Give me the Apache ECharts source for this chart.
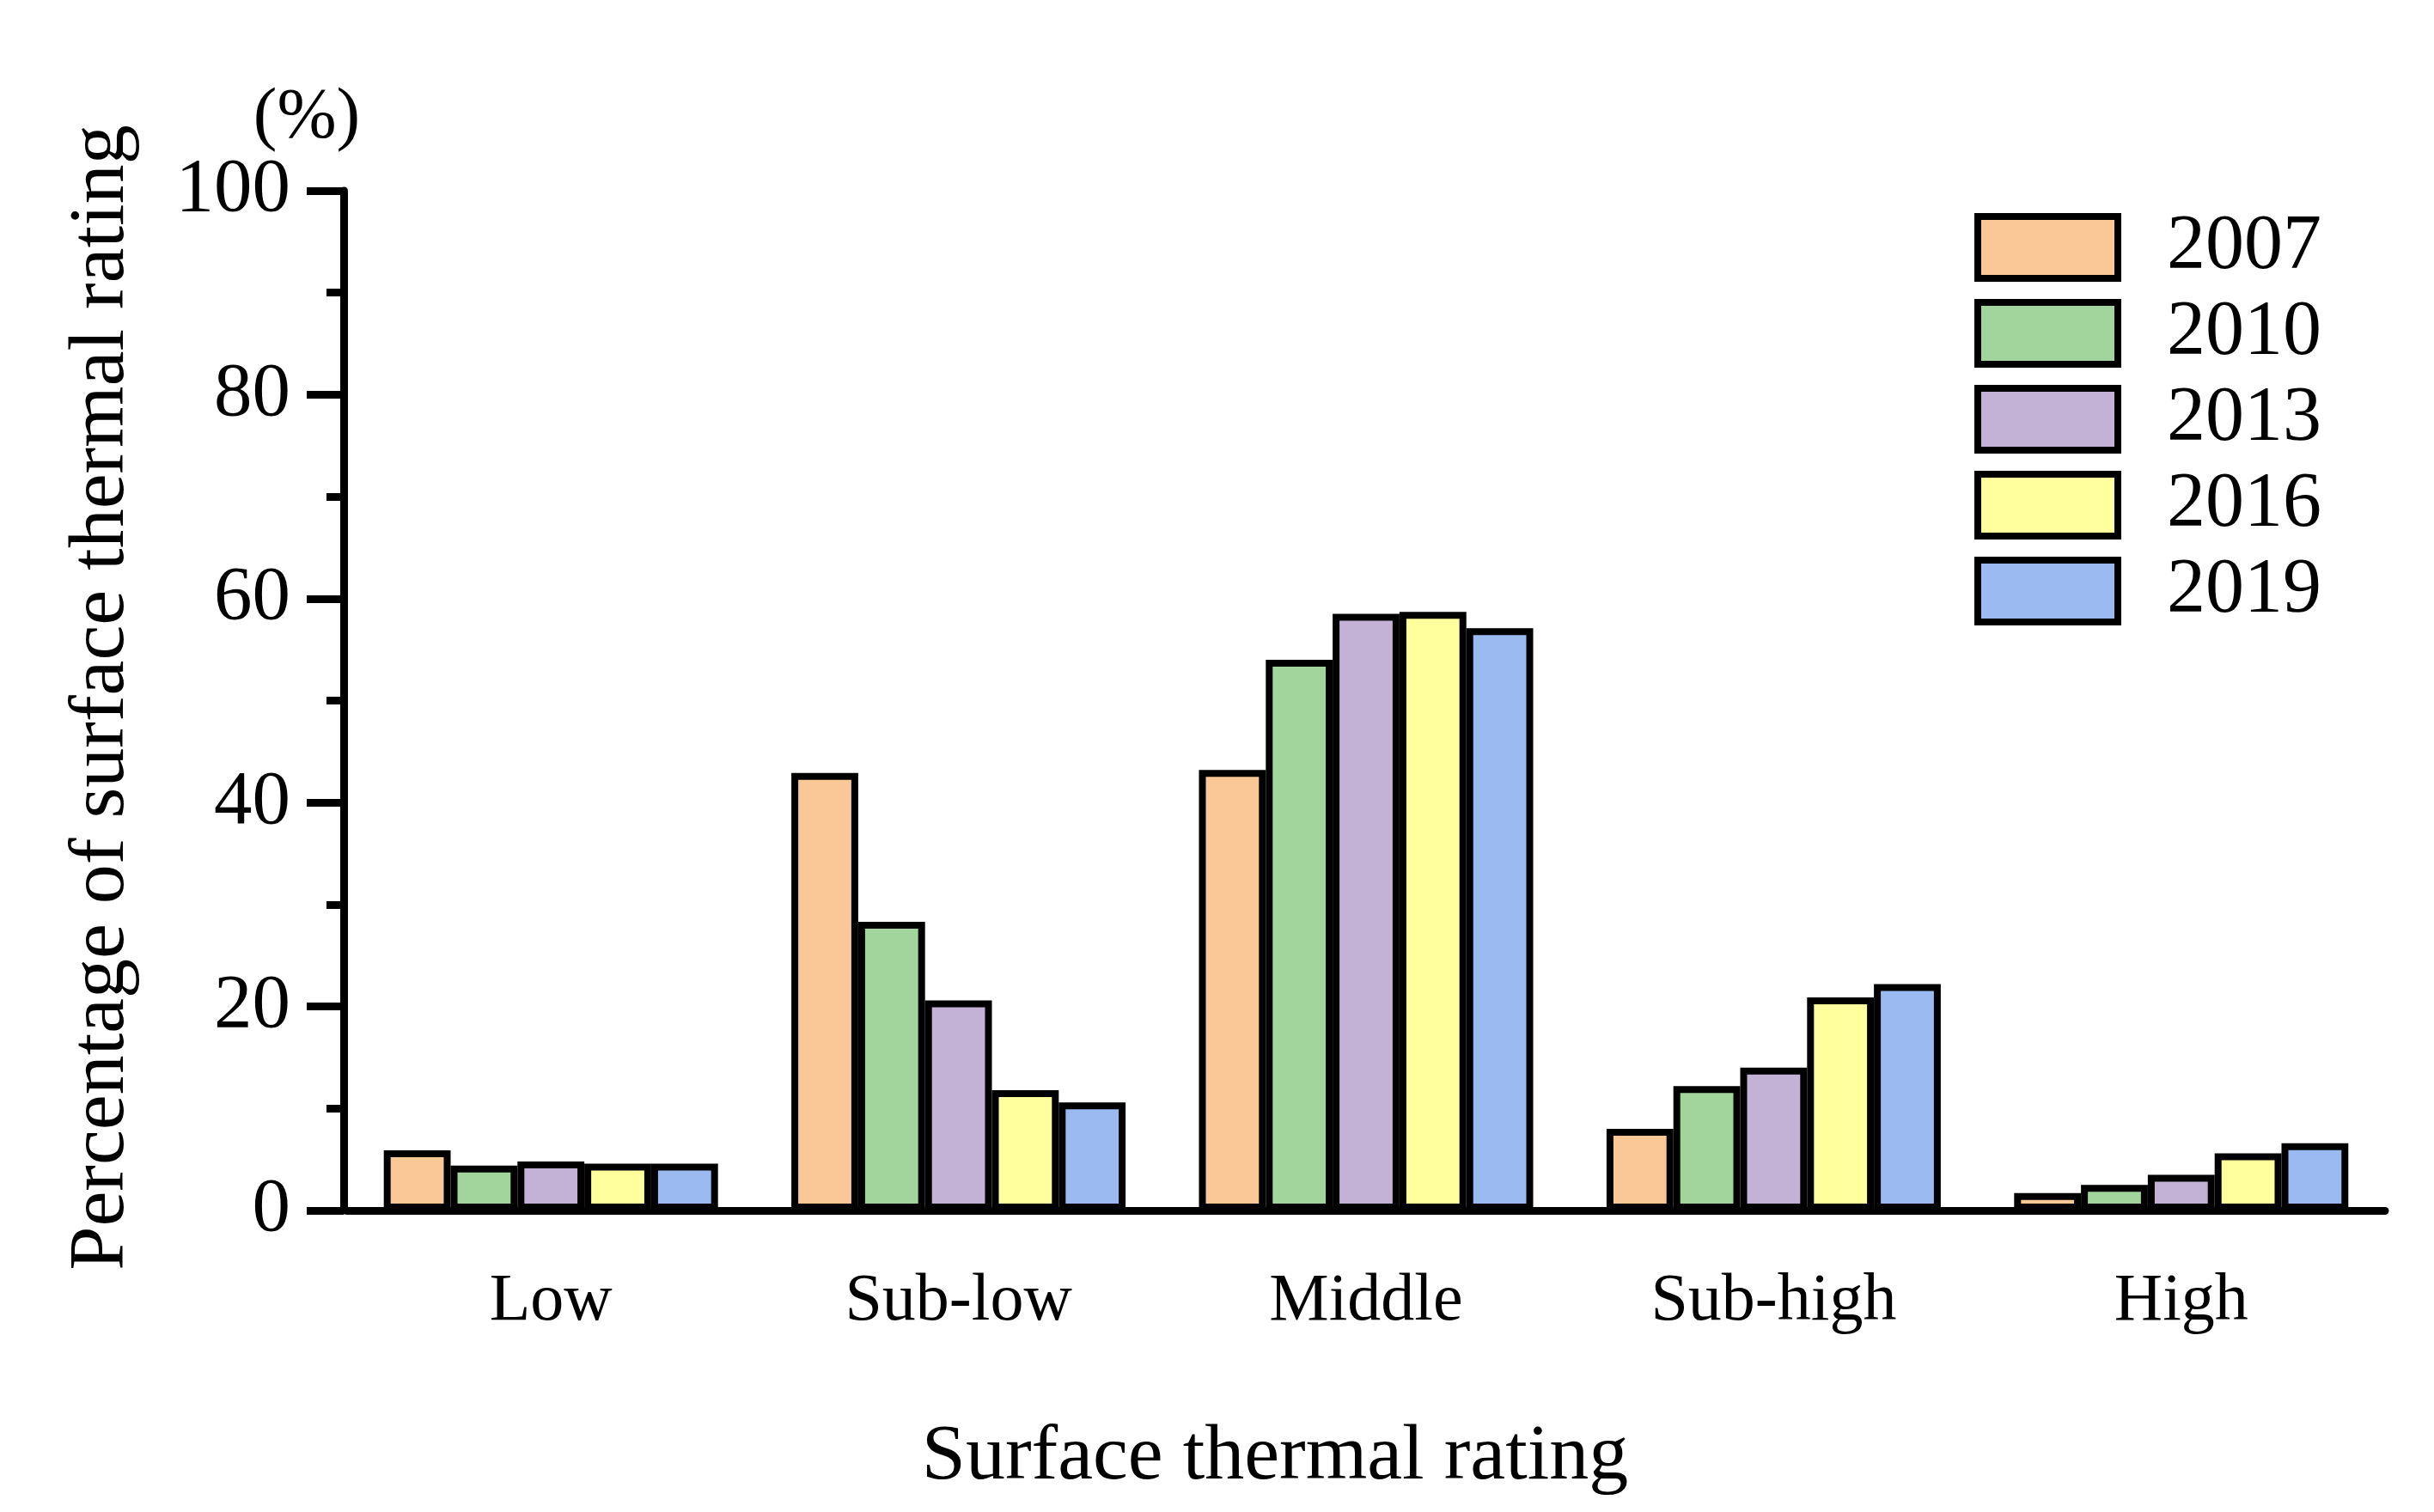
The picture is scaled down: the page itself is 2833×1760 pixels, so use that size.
<!DOCTYPE html>
<html>
<head>
<meta charset="utf-8">
<title>Surface thermal rating</title>
<script src="https://cdn.jsdelivr.net/npm/echarts@6/dist/echarts.min.js"></script>
<style>
  html, body { margin: 0; padding: 0; background: #fff; }
  #thermalChart { width: 2833px; height: 1760px; }
</style>
</head>
<body>
<div id="thermalChart"></div>
<script>
var categories = ['Low', 'Sub-low', 'Middle', 'Sub-high', 'High'];
var years = ['2007', '2010', '2013', '2016', '2019'];
var values2007 = [5.9, 42.9, 43.2, 8.0, 1.7];
var values2010 = [4.4, 28.3, 54.0, 12.2, 2.5];
var values2013 = [4.8, 20.6, 58.5, 14.0, 3.5];
var values2016 = [4.6, 11.8, 58.7, 20.9, 5.6];
var values2019 = [4.6, 10.6, 57.1, 22.2, 6.6];
var yTicks = [0, 20, 40, 60, 80, 100];

var colorList = ['#F9C896', '#A1D59C', '#C3B2D6', '#FFFF9E', '#9BBAF1'];
var serif = 'Liberation Serif';
var thermalOption;

function init(){
    thermalChart();
    setThermalChart();
}

function thermalChart(){
    var seriesValues = [values2007, values2010, values2013, values2016, values2019];
    var series = [];
    for (var i = 0; i < years.length; i++) {
        series.push({
            name: years[i],
            type: 'bar',
            data: seriesValues[i],
            barGap: '0%',
            barCategoryGap: '18%',
            itemStyle: {
                color: colorList[i],
                borderColor: '#000',
                borderWidth: 8
            }
        });
    }

    thermalOption = {
        animation: false,
        backgroundColor: '#fff',
        grid: {
            left: 404,
            right: 57,
            top: 222,
            bottom: 351,
            containLabel: false
        },
        legend: {
            left: 2293,
            top: 238,
            orient: 'vertical',
            icon: 'rect',
            itemWidth: 163,
            itemHeight: 72,
            itemGap: 10,
            selectedMode: false,
            data: years,
            itemStyle: {
                borderColor: '#000',
                borderWidth: 8
            },
            textStyle: {
                fontFamily: serif,
                fontSize: 90,
                color: '#000',
                lineHeight: 72,
                padding: [0, 0, 0, 52]
            }
        },
        xAxis: [
            {
                type: 'category',
                data: categories,
                axisLine: { lineStyle: { color: '#000', width: 9 } },
                axisTick: {
                    alignWithLabel: true,
                    length: 40,
                    lineStyle: { color: '#000', width: 7 }
                },
                axisLabel: {
                    fontFamily: serif,
                    fontSize: 78,
                    color: '#000',
                    margin: 68
                }
            }
        ],
        yAxis: [
            {
                type: 'value',
                min: 0,
                max: 100,
                interval: 20,
                offset: 4,
                splitLine: { show: false },
                axisLine: { show: true, lineStyle: { color: '#000', width: 9 } },
                axisTick: {
                    show: true,
                    length: 43,
                    lineStyle: { color: '#000', width: 9 }
                },
                minorTick: {
                    show: true,
                    splitNumber: 2,
                    length: 20,
                    lineStyle: { color: '#000', width: 9 }
                },
                axisLabel: {
                    fontFamily: serif,
                    fontSize: 89,
                    color: '#000',
                    margin: 62,
                    formatter: function (v) {
                        return yTicks.indexOf(v) >= 0 ? String(v) : '';
                    }
                }
            }
        ],
        graphic: [
            {
                type: 'text',
                x: 119,
                y: 812,
                rotation: Math.PI / 2,
                style: {
                    text: 'Percentage of surface thermal rating',
                    font: '92px "Liberation Serif"',
                    fill: '#000',
                    align: 'center',
                    verticalAlign: 'middle'
                }
            },
            {
                type: 'text',
                x: 1484,
                y: 1697,
                style: {
                    text: 'Surface thermal rating',
                    font: '92px "Liberation Serif"',
                    fill: '#000',
                    align: 'center',
                    verticalAlign: 'middle'
                }
            },
            {
                type: 'text',
                x: 357,
                y: 137,
                style: {
                    text: '(%)',
                    font: '83px "Liberation Serif"',
                    fill: '#000',
                    align: 'center',
                    verticalAlign: 'middle'
                }
            }
        ],
        series: series
    };
}

function setThermalChart(){
    var myChart = echarts.init(document.getElementById('thermalChart'));
    myChart.setOption(thermalOption);
}

init();
</script>
</body>
</html>
